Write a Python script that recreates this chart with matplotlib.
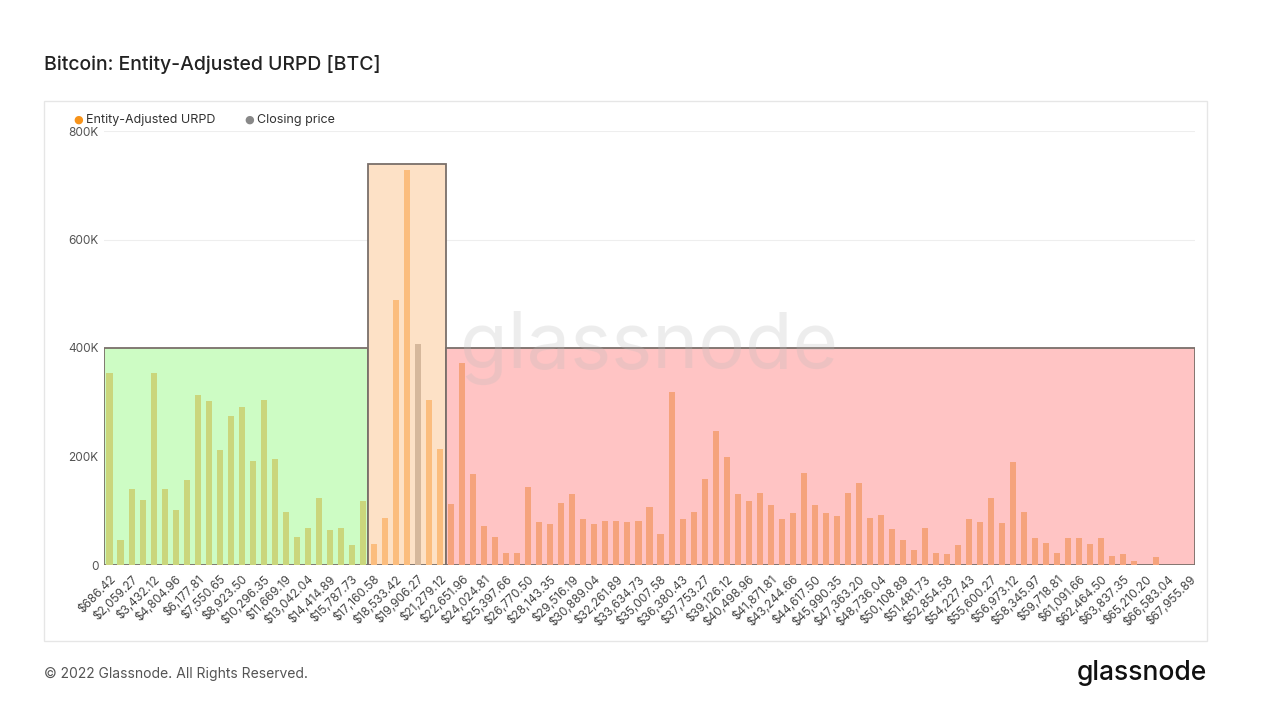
import matplotlib
matplotlib.use("Agg")
import matplotlib.pyplot as plt
from matplotlib.patches import Rectangle
import numpy as np

green_vals = [353, 46, 141, 120, 353, 141, 101, 157, 313, 303, 212, 275, 292, 192, 304, 195, 97, 52, 68, 124, 65, 68, 37, 118]
orange_vals = [38, 86, 488, 728, 407, 305, 214]
red_vals = [112, 373, 167, 72, 52, 23, 23, 143, 80, 76, 114, 131, 84, 76, 81, 82, 79, 81, 106, 58,
            318, 84, 98, 158, 247, 200, 131, 118, 133, 110, 84, 95, 169, 110,
            95, 90, 133, 152, 87, 93, 66, 46, 28, 69, 23, 20, 36, 84, 79, 124, 78, 190, 98, 49,
            41, 23, 50, 49, 38, 49, 17, 21, 7, 0, 15, 0, 0, 0]
values_k = green_vals + orange_vals + red_vals
closing_index = 28  # bar containing closing price

tick_labels = ["$686.42", "$2,059.27", "$3,432.12", "$4,804.96", "$6,177.81", "$7,550.65", "$8,923.50",
               "$10,296.35", "$11,669.19", "$13,042.04", "$14,414.89", "$15,787.73", "$17,160.58",
               "$18,533.42", "$19,906.27", "$21,279.12", "$22,651.96", "$24,024.81", "$25,397.66",
               "$26,770.50", "$28,143.35", "$29,516.19", "$30,889.04", "$32,261.89", "$33,634.73",
               "$35,007.58", "$36,380.43", "$37,753.27", "$39,126.12", "$40,498.96", "$41,871.81",
               "$43,244.66", "$44,617.50", "$45,990.35", "$47,363.20", "$48,736.04", "$50,108.89",
               "$51,481.73", "$52,854.58", "$54,227.43", "$55,600.27", "$56,973.12", "$58,345.97",
               "$59,718.81", "$61,091.66", "$62,464.50", "$63,837.35", "$65,210.20", "$66,583.04",
               "$67,955.89"]
y_ticks = [0, 200000, 400000, 600000, 800000]
y_tick_labels = ["0", "200K", "400K", "600K", "800K"]
zone_tops = [400000, 740000, 400000]

W, H = 1287, 721
fig = plt.figure(figsize=(W/100, H/100), dpi=100)
fig.patch.set_facecolor("white")

def fx(px): return px / W
def fy(py): return 1 - py / H

fig.text(fx(44), fy(64), "Bitcoin: Entity-Adjusted URPD [BTC]", fontsize=14, fontfamily="Inter",
         color="#222222", va="center", ha="left", fontweight="medium")
card = Rectangle((fx(44), fy(641)), fx(1207-44), (641-101)/H, transform=fig.transFigure,
                 facecolor="white", edgecolor="#e6e6e6", lw=1, zorder=-10)
fig.patches.append(card)
fig.text(fx(44), fy(674), "© 2022 Glassnode. All Rights Reserved.", fontsize=10, fontfamily="Inter",
         color="#555555", va="center")
fig.text(fx(1207), fy(673), "glassnode", fontsize=19, fontfamily="Inter", color="#111111",
         va="center", ha="right", fontweight="medium")

ax = fig.add_axes([fx(104), fy(565), fx(1195-104), (565-131)/H])
ax.set_facecolor("none")
n = len(values_k)
x = np.arange(n)
vals = np.array(values_k) * 1000.0
ng, no = len(green_vals), len(orange_vals)
colors = []
for i in range(n):
    if i < ng: colors.append("#cad67c")
    elif i < ng + no: colors.append("#d6b89c" if i == closing_index else "#fbbd7e")
    else: colors.append("#f5a37c")

for yt in y_ticks[1:]:
    ax.axhline(yt, color="#eeeeee", lw=0.8, zorder=0)

bounds = [(-0.5, ng - 0.5), (ng - 0.5, ng + no - 0.5), (ng + no - 0.5, n - 0.5)]
fills = ["#cdfcc4", "#fde1c6", "#ffc4c4"]
for (a, b), top, fc in zip(bounds, zone_tops, fills):
    ax.add_patch(Rectangle((a, 0), b - a, top, facecolor=fc, edgecolor="#7a6f6a", lw=1.3, zorder=1))

ax.bar(x, vals, width=0.55, color=colors, zorder=2)
ax.text(0.5, 0.5, "glassnode", transform=ax.transAxes, fontsize=56, color="#bbbbbb", alpha=0.25,
        ha="center", va="center", fontfamily="Inter", zorder=3)

ax.set_xlim(-0.5, n - 0.5)
ax.set_ylim(0, 800000)
ax.set_yticks(y_ticks)
ax.set_yticklabels(y_tick_labels, fontsize=8.5, color="#555555", fontfamily="Inter")
ax.set_xticks(x[::2][:len(tick_labels)])
ax.set_xticklabels(tick_labels, rotation=45, ha="right", rotation_mode="anchor",
                   fontsize=8.5, color="#444444", fontfamily="Inter")
ax.tick_params(axis="both", length=0, pad=4)
ax.tick_params(axis="x", pad=6)
for s in ax.spines.values():
    s.set_visible(False)

fig.text(fx(73), fy(120), "●", color="#f7931a", fontsize=8, va="center")
fig.text(fx(86), fy(120), "Entity-Adjusted URPD", color="#333333", fontsize=9, va="center", fontfamily="Inter")
fig.text(fx(244), fy(120), "●", color="#888888", fontsize=8, va="center")
fig.text(fx(257), fy(120), "Closing price", color="#333333", fontsize=9, va="center", fontfamily="Inter")

fig.savefig("out.png", dpi=100)
